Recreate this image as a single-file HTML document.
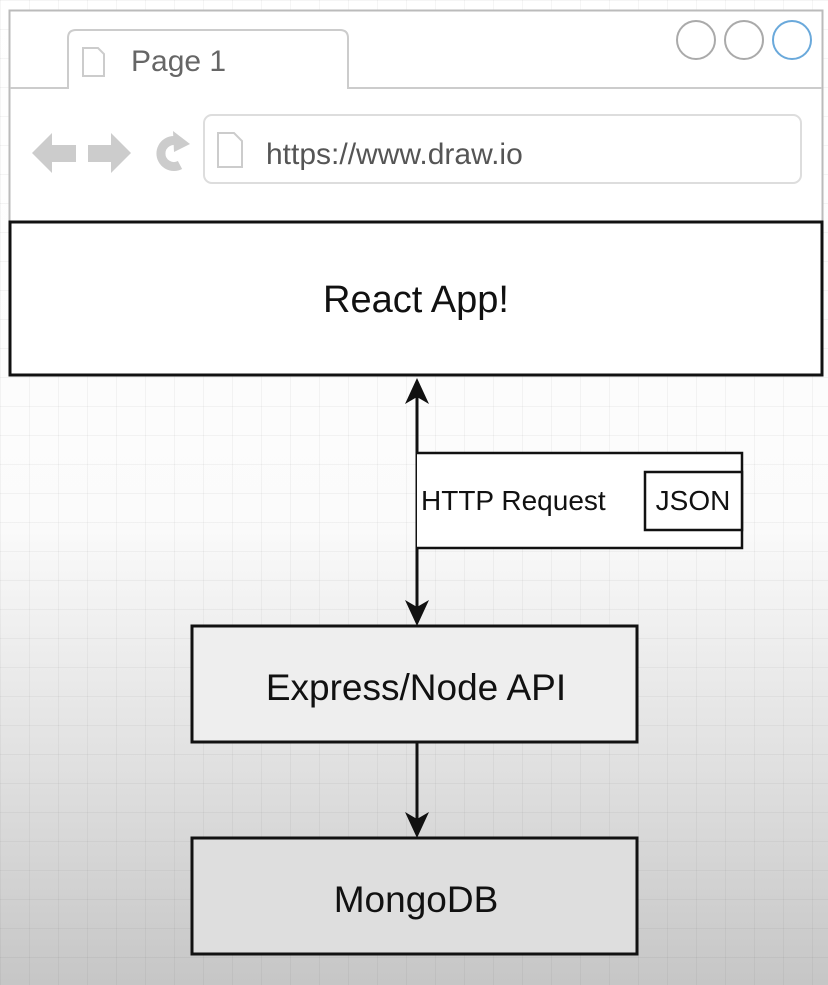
<!DOCTYPE html>
<html><head><style>
body{margin:0;width:828px;height:985px;overflow:hidden;font-family:"Liberation Sans",sans-serif;}
.bg{position:absolute;left:0;top:0;width:828px;height:985px;background:linear-gradient(to bottom,#fff 0,#fbfbfb 520px,#e2e2e2 750px,#c6c6c6 985px);}
.grid{position:absolute;left:0;top:0;width:828px;height:985px;background-image:linear-gradient(to right,rgba(0,0,0,0.04) 1px,transparent 1px),linear-gradient(to bottom,rgba(0,0,0,0.04) 1px,transparent 1px);background-size:29px 29px;}
</style></head><body>
<div class="bg"></div><div class="grid"></div>
<svg width="828" height="985" style="position:absolute;left:0;top:0" font-family="Liberation Sans, sans-serif">
<rect x="9.5" y="10.5" width="813" height="212" fill="#fff" stroke="#bbb" stroke-width="2"/>
<path d="M10 88 H68 V38 Q68 30 76 30 H340 Q348 30 348 38 V88 H822" fill="none" stroke="#ccc" stroke-width="2"/>
<path d="M83 48 H98 L104 54 V76 H83 Z" fill="#fff" stroke="#ccc" stroke-width="2"/>
<text x="131" y="71" font-size="30" fill="#666">Page 1</text>
<circle cx="696" cy="40" r="19" fill="#fff" stroke="#aaa" stroke-width="2"/>
<circle cx="744" cy="40" r="19" fill="#fff" stroke="#aaa" stroke-width="2"/>
<circle cx="792" cy="40" r="19" fill="#fff" stroke="#6aa9db" stroke-width="2"/>
<rect x="204" y="115" width="597" height="68" rx="8" fill="#fff" stroke="#ddd" stroke-width="2"/>
<path d="M218 133 H234 L242 141 V167 H218 Z" fill="#fff" stroke="#ccc" stroke-width="2"/>
<text x="266" y="164" font-size="30" fill="#555">https://www.draw.io</text>
<path d="M32 153 L52 133 V145 H76 V162 H52 V173 Z" fill="#ccc"/>
<path d="M131 153 L111 133 V145 H88 V162 H111 V173 Z" fill="#ccc"/>
<path d="M180 142 A13 13 0 1 0 180 165" fill="none" stroke="#ccc" stroke-width="9"/>
<path d="M173 131 L190 144 L174 152 Z" fill="#ccc"/>
<rect x="10" y="222" width="812" height="153" fill="#fff" stroke="#111" stroke-width="3"/>
<text x="416" y="312" font-size="38" text-anchor="middle" fill="#111">React App!</text>
<line x1="417" y1="390" x2="417" y2="612" stroke="#111" stroke-width="3"/>
<path d="M417 378 L405 404 L417 397 L429 404 Z" fill="#111"/>
<path d="M417 626 L405 600 L417 607 L429 600 Z" fill="#111"/>
<path d="M417 453 H742 V548 H417" fill="#fff" stroke="#111" stroke-width="2.5"/>
<rect x="645" y="472" width="97" height="58" fill="#fff" stroke="#111" stroke-width="2.5"/>
<text x="421" y="510" font-size="28" fill="#111">HTTP Request</text>
<text x="693" y="510" font-size="28" text-anchor="middle" fill="#111">JSON</text>
<rect x="192" y="626" width="445" height="116" fill="#eee" stroke="#111" stroke-width="3"/>
<text x="416" y="700" font-size="37" text-anchor="middle" fill="#111">Express/Node API</text>
<line x1="417" y1="742" x2="417" y2="824" stroke="#111" stroke-width="3"/>
<path d="M417 838 L405 812 L417 819 L429 812 Z" fill="#111"/>
<rect x="192" y="838" width="445" height="116" fill="#dedede" stroke="#111" stroke-width="3"/>
<text x="416" y="912" font-size="37" text-anchor="middle" fill="#111">MongoDB</text>
</svg>
</body></html>
